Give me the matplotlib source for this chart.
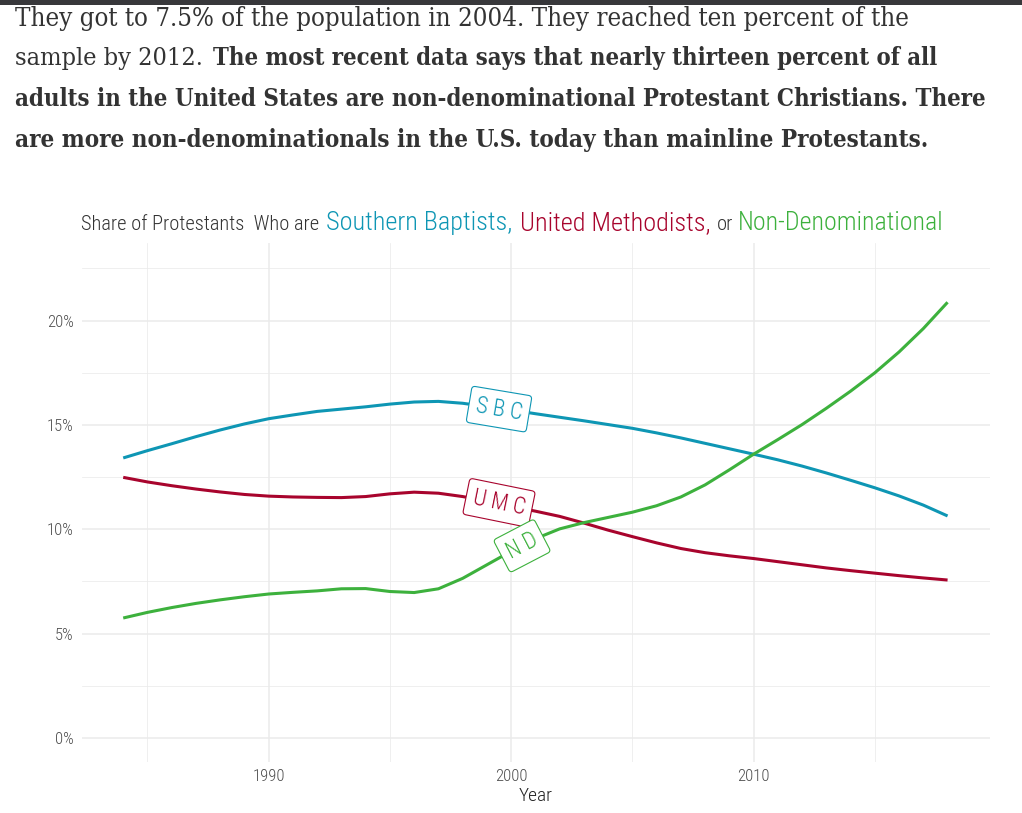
import matplotlib
matplotlib.use("Agg")
import matplotlib.pyplot as plt
from matplotlib import font_manager as fm
from matplotlib.patches import Rectangle

# ---------------- data ----------------
years = list(range(1984, 2019))
sbc = [13.42, 13.77, 14.10, 14.44, 14.76, 15.05, 15.30, 15.48, 15.65, 15.76,
       15.87, 16.00, 16.10, 16.13, 16.04, 15.88, 15.72, 15.54, 15.37, 15.20,
       15.02, 14.84, 14.62, 14.38, 14.12, 13.86, 13.60, 13.33, 13.03, 12.70,
       12.35, 11.99, 11.60, 11.16, 10.64]
umc = [12.49, 12.27, 12.09, 11.93, 11.79, 11.67, 11.59, 11.55, 11.53, 11.52,
       11.57, 11.70, 11.78, 11.73, 11.57, 11.35, 11.10, 10.87, 10.62, 10.30,
       9.96, 9.65, 9.35, 9.08, 8.88, 8.73, 8.60, 8.45, 8.30, 8.15,
       8.02, 7.90, 7.78, 7.67, 7.57]
nd = [5.75, 6.02, 6.25, 6.45, 6.62, 6.77, 6.90, 6.98, 7.05, 7.15,
      7.16, 7.02, 6.97, 7.15, 7.65, 8.30, 8.95, 9.55, 10.02, 10.32,
      10.57, 10.82, 11.13, 11.55, 12.13, 12.85, 13.60, 14.30, 15.02, 15.80,
      16.62, 17.50, 18.50, 19.62, 20.88]

series_names = ["S B C", "U M C", "N D"]
label_pos = [(1999.5, 15.76, -9.5), (1999.5, 11.27, -11.5), (2000.45, 9.21, 27.5)]

x_major = [1990, 2000, 2010]
x_minor = [1985, 1995, 2005, 2015]
y_major = [0, 5, 10, 15, 20]
y_minor = [2.5, 7.5, 12.5, 17.5, 22.5]
y_labels = ["0%", "5%", "10%", "15%", "20%"]

para_lines = [
    [("They got to 7.5% of the population in 2004. They reached ten percent of the", "normal")],
    [("sample by 2012.", "normal"), ("The most recent data says that nearly thirteen percent of all", "bold")],
    [("adults in the United States are non-denominational Protestant Christians. There", "bold")],
    [("are more non-denominationals in the U.S. today than mainline Protestants.", "bold")],
]

C_SBC = "#0E96B4"
C_UMC = "#A8042D"
C_ND = "#3DB13D"
TXT = "#333333"

# ---------------- fonts ----------------
ttf = fm.fontManager.ttflist
names = {f.name for f in ttf}

def has_cond(fam):
    return any(f.name == fam and f.stretch in ("condensed", "semi-condensed") for f in ttf)

chart_font, chart_stretch = "DejaVu Sans", "normal"
for cand in ["Roboto Condensed", "Liberation Sans Narrow"]:
    if cand in names:
        chart_font = cand
        break
if chart_font == "DejaVu Sans" and has_cond("DejaVu Sans"):
    chart_stretch = "condensed"
LIGHT = "light"

para_font, para_stretch = "DejaVu Serif", "normal"
if "Roboto Slab" in names:
    para_font = "Roboto Slab"
elif has_cond("DejaVu Serif"):
    para_stretch = "condensed"

W, H = 1022, 813
fig = plt.figure(figsize=(W / 100, H / 100), dpi=100)
fig.patch.set_facecolor("white")

def fx(px):
    return px / W

def fy(py):
    return 1 - py / H

renderer = fig.canvas.get_renderer()

def fit(t, target):
    for _ in range(3):
        bb = t.get_window_extent(renderer)
        if bb.width > 0:
            t.set_fontsize(t.get_fontsize() * target / bb.width)

# top bar
fig.patches.append(Rectangle((0, fy(5)), 1, 5 / H, transform=fig.transFigure,
                             facecolor="#38383b", edgecolor="none"))

# paragraph
baselines = [26, 65, 106, 146.5]
targets = [[(15, 910)], [(15, 203), (213, 938)], [(15, 985)], [(15, 927)]]
for line, base, tg in zip(para_lines, baselines, targets):
    for (txt, wt), (x0, x1) in zip(line, tg):
        t = fig.text(fx(x0), fy(base), txt, fontsize=18, fontweight=wt,
                     family=para_font, fontstretch=para_stretch, color=TXT,
                     va="baseline", ha="left")
        fit(t, x1 - x0)

# ---------------- axes ----------------
ax = fig.add_axes([fx(82), fy(762), (990 - 82) / W, (762 - 243) / H])
ax.set_xlim(1982.3, 2019.75)
ax.set_ylim(-1.15, 23.72)
for s in ax.spines.values():
    s.set_visible(False)
ax.set_xticks(x_major)
ax.set_xticks(x_minor, minor=True)
ax.set_yticks(y_major)
ax.set_yticks(y_minor, minor=True)
ax.set_yticklabels(y_labels)
ax.grid(which="major", color="#EBEBEB", linewidth=1.1)
ax.grid(which="minor", color="#EBEBEB", linewidth=0.55)
ax.set_axisbelow(True)
ax.tick_params(which="both", length=0)
ax.tick_params(axis="y", pad=6, labelsize=12, labelcolor="#4D4D4D")
ax.tick_params(axis="x", pad=5, labelsize=12, labelcolor="#4D4D4D")
for lab in ax.get_xticklabels() + ax.get_yticklabels():
    lab.set_family(chart_font)
    lab.set_fontstretch(chart_stretch)
    lab.set_fontweight(LIGHT)
ax.set_xlabel("Year", fontsize=14, family=chart_font, fontstretch=chart_stretch,
              fontweight=LIGHT, color="#222222", labelpad=2)

for vals, col in zip([sbc, umc, nd], [C_SBC, C_UMC, C_ND]):
    ax.plot(years, vals, color=col, linewidth=2.2, solid_capstyle="butt", zorder=3)

for name, (lx, ly, rot), col in zip(series_names, label_pos, [C_SBC, C_UMC, C_ND]):
    ax.text(lx, ly, name, color=col, fontsize=16.5, family=chart_font,
            fontstretch=chart_stretch, fontweight=LIGHT, rotation=rot,
            rotation_mode="anchor", ha="center", va="center", zorder=5,
            bbox=dict(boxstyle="round,pad=0.3,rounding_size=0.15", fc="white",
                      ec=col, lw=0.8))

# ---------------- title ----------------
tb = 229.7
pieces = [("Share of Protestants  Who are", TXT, 81, 319),
          ("Southern Baptists,", C_SBC, 326, 512),
          ("United Methodists,", C_UMC, 520, 712),
          ("Non-Denominational", C_ND, 738, 943)]
small_size = None
for txt, col, x0, x1 in pieces:
    t = fig.text(fx(x0), fy(tb), txt, color=col, fontsize=16, family=chart_font,
                 fontstretch=chart_stretch, fontweight=LIGHT,
                 va="baseline", ha="left")
    fit(t, x1 - x0)
    if small_size is None:
        small_size = t.get_fontsize()
fig.text(fx(717), fy(tb), "or", color=TXT, fontsize=small_size, family=chart_font,
         fontstretch=chart_stretch, fontweight=LIGHT, va="baseline", ha="left")

fig.savefig("out.png", dpi=100, facecolor="white")
